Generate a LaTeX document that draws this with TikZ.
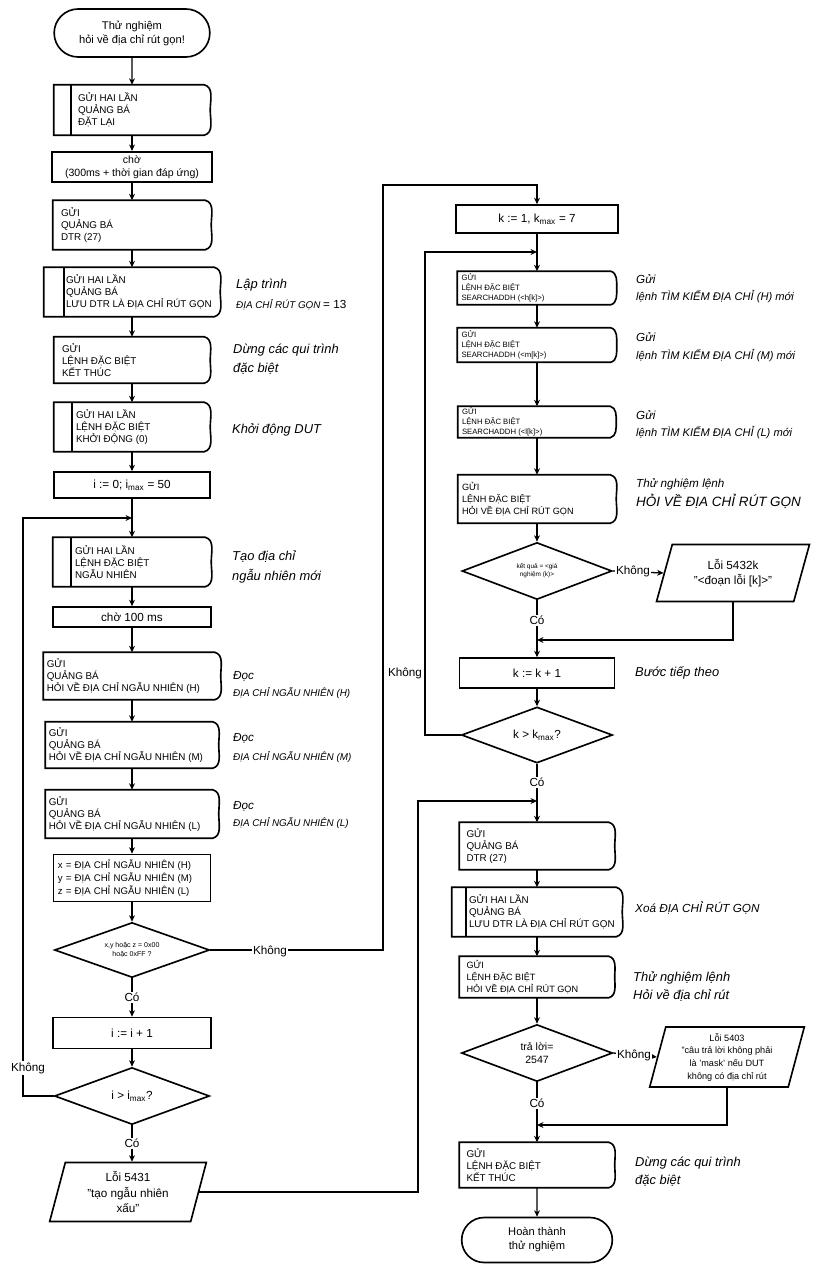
\documentclass[tikz,border=0pt]{standalone}
\usepackage{fontspec}
\setmainfont{Liberation Sans}
\usetikzlibrary{shapes.geometric,shapes.misc,arrows.meta}
\begin{document}
\begin{tikzpicture}[x=0.03cm,y=-0.03cm,
  bw/.style={minimum width=#1*0.03cm},
  bh/.style={minimum height=#1*0.03cm},
  ln/.style={line width=1.4pt},
  arr/.style={line width=1.1pt,-{Stealth[length=5.5pt,width=5pt]}},
  wire/.style={line width=1.1pt},
  pbox/.style={rectangle,inner sep=0pt},
  ptxt/.style={font=\fontsize{8.4}{10.4}\selectfont,align=left,inner sep=0pt,anchor=west},
  stxt/.style={font=\fontsize{6.6}{8.4}\selectfont,align=left,inner sep=0pt,anchor=west},
  box/.style={rectangle,draw,ln,inner sep=1pt,align=center,font=\fontsize{10}{12}\selectfont},
  term/.style={rounded rectangle,draw,ln,inner sep=1pt,align=center,font=\fontsize{9.5}{12}\selectfont},
  dec/.style={diamond,draw,ln,inner sep=0pt,aspect=2.7,align=center,font=\fontsize{6}{7.5}\selectfont},
  io/.style={trapezium,trapezium left angle=76,trapezium right angle=104,trapezium stretches=true,draw,ln,inner sep=0pt,align=center,font=\fontsize{10}{13}\selectfont},
  note/.style={anchor=west,inner sep=0pt,font=\fontsize{11}{13}\selectfont\itshape},
  notes/.style={anchor=west,inner sep=0pt,font=\fontsize{8.4}{10}\selectfont\itshape},
  lab/.style={fill=white,inner sep=1pt,font=\fontsize{10}{12}\selectfont},
]
\useasboundingbox (0,0) rectangle (836,1265);
\fill[white] (0,0) rectangle (836,1265);

% ---------------- left column ----------------
\node[term,bw=158,bh=48] (start) at (132,33) {Thử nghiệm\\hỏi về địa chỉ rút gọn!};
\node[pbox,bw=156,bh=50] (p1) at (132,110) {};
\node[ptxt] at ([xshift=0.72cm]p1.west) {GỬI HAI LẦN\\QUẢNG BÁ\\ĐẶT LẠI};
\node[box,line width=1.8pt,bw=160,bh=30,font=\fontsize{9}{11}\selectfont] (w1) at (132,167) {chờ\\(300ms + thời gian đáp ứng)};
\node[pbox,bw=158,bh=49] (p2) at (132,225) {};
\node[ptxt] at ([xshift=0.24cm]p2.west) {GỬI\\QUẢNG BÁ\\DTR (27)};
\node[pbox,bw=176,bh=49] (p3) at (132,292) {};
\node[ptxt] at ([xshift=0.66cm]p3.west) {GỬI HAI LẦN\\QUẢNG BÁ\\LƯU DTR LÀ ĐỊA CHỈ RÚT GỌN};
\node[pbox,bw=156,bh=46] (p4) at (132,360) {};
\node[ptxt] at ([xshift=0.24cm]p4.west) {GỬI\\LỆNH ĐẶC BIỆT\\KẾT THÚC};
\node[pbox,bw=156,bh=49] (p5) at (132,427) {};
\node[ptxt] at ([xshift=0.66cm]p5.west) {GỬI HAI LẦN\\LỆNH ĐẶC BIỆT\\KHỞI ĐỘNG (0)};
\node[box,bw=156,bh=26] (r1) at (132,485) {i := 0; i\textsubscript{max} = 50};
\coordinate (j1) at (132,518);
\node[pbox,bw=158,bh=49] (p6) at (132,562) {};
\node[ptxt] at ([xshift=0.66cm]p6.west) {GỬI HAI LẦN\\LỆNH ĐẶC BIỆT\\NGẪU NHIÊN};
\node[box,bw=158,bh=20] (r2) at (132,617) {chờ 100 ms};
\node[pbox,bw=177,bh=47] (p7) at (132,676) {};
\node[ptxt] at ([xshift=0.1cm]p7.west) {GỬI\\QUẢNG BÁ\\HỎI VỀ ĐỊA CHỈ NGẪU NHIÊN (H)};
\node[pbox,bw=173,bh=46] (p8) at (132,745) {};
\node[ptxt] at ([xshift=0.1cm]p8.west) {GỬI\\QUẢNG BÁ\\HỎI VỀ ĐỊA CHỈ NGẪU NHIÊN (M)};
\node[pbox,bw=173,bh=48] (p9) at (132,814) {};
\node[ptxt] at ([xshift=0.1cm]p9.west) {GỬI\\QUẢNG BÁ\\HỎI VỀ ĐỊA CHỈ NGẪU NHIÊN (L)};
\node[box,bw=157,bh=47,text width=4.45cm,align=left,inner xsep=3pt,font=\fontsize{8.2}{11}\selectfont] (r3) at (132,878) {x = ĐỊA CHỈ NGẪU NHIÊN (H)\\y = ĐỊA CHỈ NGẪU NHIÊN (M)\\z = ĐỊA CHỈ NGẪU NHIÊN (L)};
\node[dec,bw=155,bh=55] (d1) at (132,950) {x,y hoặc z = 0x00\\hoặc 0xFF ?};
\node[box,bw=158,bh=31] (r4) at (132,1033) {i := i + 1};
\node[dec,bw=155,bh=57,font=\fontsize{10}{12}\selectfont] (d2) at (132,1096) {i > i\textsubscript{max}?};
\node[io,bw=157,bh=59] (e1) at (128,1192) {Lỗi 5431\\"tạo ngẫu nhiên\\xấu"};

% ---------------- right column ----------------
\node[box,bw=162,bh=28] (k1) at (537,219) {k := 1, k\textsubscript{max} = 7};
\coordinate (j2) at (537,252);
\node[pbox,bw=159,bh=33] (q1) at (537,288) {};
\node[stxt] at ([xshift=0.12cm]q1.west) {GỬI\\LỆNH ĐẶC BIỆT\\SEARCHADDH (<h[k]>)};
\node[pbox,bw=159,bh=34] (q2) at (537,345) {};
\node[stxt] at ([xshift=0.12cm]q2.west) {GỬI\\LỆNH ĐẶC BIỆT\\SEARCHADDH (<m[k]>)};
\node[pbox,bw=158,bh=31] (q3) at (537,422) {};
\node[stxt] at ([xshift=0.12cm]q3.west) {GỬI\\LỆNH ĐẶC BIỆT\\SEARCHADDH (<l[k]>)};
\node[pbox,bw=158,bh=48] (q4) at (537,499) {};
\node[ptxt,font=\fontsize{7.8}{10.4}\selectfont] at ([xshift=0.12cm]q4.west) {GỬI\\LỆNH ĐẶC BIỆT\\HỎI VỀ ĐỊA CHỈ RÚT GỌN};
\node[dec,bw=150,bh=57,font=\fontsize{5.5}{7}\selectfont] (d3) at (537,571) {kết quả = <giá\\nghiệm (k)>};
\node[io,bw=153,bh=57,trapezium left angle=70,trapezium right angle=110] (e2) at (733,573) {Lỗi 5432k\\"<đoạn lỗi [k]>"};
\coordinate (j3) at (537,640);
\node[box,bw=155,bh=30] (r5) at (537,673) {k := k + 1};
\node[dec,bw=151,bh=56,font=\fontsize{10}{12}\selectfont] (d4) at (537,735) {k > k\textsubscript{max}?};
\coordinate (j4) at (537,801);
\node[pbox,bw=155,bh=47] (s1) at (537,846) {};
\node[ptxt] at ([xshift=0.21cm]s1.west) {GỬI\\QUẢNG BÁ\\DTR (27)};
\node[pbox,bw=170,bh=49] (s2) at (537,912) {};
\node[ptxt] at ([xshift=0.51cm]s2.west) {GỬI HAI LẦN\\QUẢNG BÁ\\LƯU DTR LÀ ĐỊA CHỈ RÚT GỌN};
\node[pbox,bw=155,bh=41] (s3) at (537,977) {};
\node[ptxt,font=\fontsize{7.8}{10.4}\selectfont] at ([xshift=0.21cm]s3.west) {GỬI\\LỆNH ĐẶC BIỆT\\HỎI VỀ ĐỊA CHỈ RÚT GỌN};
\node[dec,bw=151,bh=57,font=\fontsize{9}{11}\selectfont] (d5) at (537,1053) {trả lời=\\2547};
\node[io,bw=155,bh=60,font=\fontsize{7.8}{10.8}\selectfont] (e3) at (727,1057) {Lỗi 5403\\"câu trả lời không phải\\là 'mask' nếu DUT\\không có địa chỉ rút};
\coordinate (j5) at (537,1125);
\node[pbox,bw=155,bh=45] (s4) at (537,1165) {};
\node[ptxt] at ([xshift=0.21cm]s4.west) {GỬI\\LỆNH ĐẶC BIỆT\\KẾT THÚC};
\node[term,bw=153,bh=45] (fin) at (537,1240) {Hoàn thành\\thử nghiệm};

% outlines of the process boxes
\foreach \n in {p1,p2,p3,p4,p5,p6,p7,p8,p9,q1,q2,q3,q4,s1,s2,s3,s4}
  \draw[ln] (\n.north west) -- ([xshift=-0.18cm]\n.north east) to[out=-15,in=90] (\n.east)
     to[out=-90,in=15] ([xshift=-0.18cm]\n.south east) -- (\n.south west) -- cycle;
\foreach \n/\o in {p1/0.51,p3/0.6,p5/0.54,p6/0.54,s2/0.42}
  \draw[ln] ([xshift=\o cm]\n.north west) -- ([xshift=\o cm]\n.south west);

% bend points
\coordinate (c1) at (383,185);
\coordinate (c2) at (23,518);
\coordinate (c3) at (418,801);
\coordinate (c4) at (425,252);

% ---------------- connectors left ----------------
\draw[arr] (start) -- (p1);
\draw[arr] (p1) -- (w1);
\draw[arr] (w1) -- (p2);
\draw[arr] (p2) -- (p3);
\draw[arr] (p3) -- (p4);
\draw[arr] (p4) -- (p5);
\draw[arr] (p5) -- (r1);
\draw[wire] (r1) -- (j1);
\draw[arr] (j1) -- (p6);
\draw[arr] (p6) -- (r2);
\draw[arr] (r2) -- (p7);
\draw[arr] (p7) -- (p8);
\draw[arr] (p8) -- (p9);
\draw[arr] (p9) -- (r3);
\draw[arr] (r3) -- (d1);
\draw[arr] (d1) -- node[lab]{Có} (r4);
\draw[arr] (r4) -- (d2);
\draw[arr] (d2) -- node[lab]{Có} (e1.north -| d2);
\draw[arr] (d1.east) -| (c1) -| (k1.north);
\node[lab] at (270,951) {Không};
\draw[arr] (d2.west) -| (c2) -- (j1);
\node[lab] at (28,1068) {Không};
\draw[arr] (e1.east) -| (c3) -- (j4);

% ---------------- connectors right ----------------
\draw[wire] (k1) -- (j2);
\draw[arr] (j2) -- (q1);
\draw[arr] (q1) -- (q2);
\draw[arr] (q2) -- (q3);
\draw[arr] (q3) -- (q4);
\draw[arr] (q4) -- (d3);
\draw[arr] (d3.east) -- (e2.west);
\node[lab] at (633,571) {Không};
\draw[wire] (d3) -- node[lab]{Có} (j3);
\draw[arr] (e2.south) |- (j3);
\draw[arr] (j3) -- (r5);
\draw[arr] (r5) -- (d4);
\draw[arr] (d4.west) -| (c4) -- (j2);
\node[lab] at (405,673) {Không};
\draw[wire] (d4) -- node[lab]{Có} (j4);
\draw[arr] (j4) -- (s1);
\draw[arr] (s1) -- (s2);
\draw[arr] (s2) -- (s3);
\draw[arr] (s3) -- (d5);
\draw[arr] (d5.east) -- (e3.west);
\node[lab] at (634,1055) {Không};
\draw[wire] (d5) -- node[lab]{Có} (j5);
\draw[arr] (e3.south) |- (j5);
\draw[arr] (j5) -- (s4);
\draw[arr] (s4) -- (fin);

% ---------------- annotations ----------------
\node[note] at (236,285) {Lập trình};
\node[notes] at (236,305) {ĐỊA CHỈ RÚT GỌN {\upshape\fontsize{10}{12}\selectfont = 13}};
\node[note] at (233,350) {Dừng các qui trình};
\node[note] at (233,369) {đặc biệt};
\node[note] at (232,430) {Khởi động DUT};
\node[note] at (232,557) {Tạo địa chỉ};
\node[note] at (232,576) {ngẫu nhiên mới};
\node[note,font=\fontsize{10}{12}\selectfont\itshape] at (233,676) {Đọc};
\node[notes] at (233,693) {ĐỊA CHỈ NGẪU NHIÊN (H)};
\node[note,font=\fontsize{10}{12}\selectfont\itshape] at (233,738) {Đọc};
\node[notes] at (233,757) {ĐỊA CHỈ NGẪU NHIÊN (M)};
\node[note,font=\fontsize{10}{12}\selectfont\itshape] at (233,806) {Đọc};
\node[notes] at (233,823) {ĐỊA CHỈ NGẪU NHIÊN (L)};

\node[note,font=\fontsize{10}{12}\selectfont\itshape] at (636,279) {Gửi};
\node[note,font=\fontsize{9.5}{12}\selectfont\itshape] at (636,297) {lệnh TÌM KIẾM ĐỊA CHỈ (H) mới};
\node[note,font=\fontsize{10}{12}\selectfont\itshape] at (636,337) {Gửi};
\node[note,font=\fontsize{9.5}{12}\selectfont\itshape] at (636,356) {lệnh TÌM KIẾM ĐỊA CHỈ (M) mới};
\node[note,font=\fontsize{10}{12}\selectfont\itshape] at (636,415) {Gửi};
\node[note,font=\fontsize{9.5}{12}\selectfont\itshape] at (636,433) {lệnh TÌM KIẾM ĐỊA CHỈ (L) mới};
\node[note,font=\fontsize{10}{12}\selectfont\itshape] at (636,484) {Thử nghiệm lệnh};
\node[note,font=\fontsize{11.5}{13}\selectfont\itshape] at (636,501) {HỎI VỀ ĐỊA CHỈ RÚT GỌN};
\node[note] at (635,673) {Bước tiếp theo};
\node[note,font=\fontsize{10}{12}\selectfont\itshape] at (635,908) {Xoá ĐỊA CHỈ RÚT GỌN};
\node[note] at (633,978) {Thử nghiệm lệnh};
\node[note] at (633,996) {Hỏi về địa chỉ rút};
\node[note] at (635,1163) {Dừng các qui trình};
\node[note] at (635,1181) {đặc biệt};
\end{tikzpicture}
\end{document}
